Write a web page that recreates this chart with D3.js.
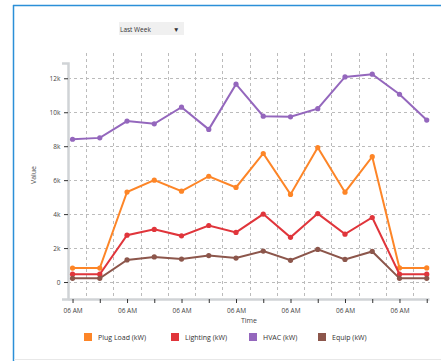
<!DOCTYPE html>
<html>
<head>
<meta charset="utf-8">
<script src="https://cdn.jsdelivr.net/npm/d3@7"></script>
<style>
    body { margin: 0; background: #fff; }
    svg text { font-family: "Open Sans", "Noto Sans", sans-serif; }
</style>
</head>
<body>
<svg id="chart" width="441" height="361"></svg>
<script>
// readings every 12 hours, one week
var times = [
    "2017-01-02 06:00", "2017-01-02 18:00", "2017-01-03 06:00", "2017-01-03 18:00",
    "2017-01-04 06:00", "2017-01-04 18:00", "2017-01-05 06:00", "2017-01-05 18:00",
    "2017-01-06 06:00", "2017-01-06 18:00", "2017-01-07 06:00", "2017-01-07 18:00",
    "2017-01-08 06:00", "2017-01-08 18:00"
];
var plugLoad = [820, 820, 5300, 6000, 5350, 6230, 5570, 7570, 5160, 7920, 5290, 7380, 830, 830];
var lighting = [460, 460, 2760, 3100, 2720, 3330, 2920, 4000, 2630, 4030, 2820, 3800, 460, 460];
var hvac     = [8410, 8490, 9480, 9320, 10300, 8990, 11650, 9770, 9730, 10210, 12080, 12240, 11060, 9540];
var equip    = [215, 215, 1300, 1480, 1350, 1560, 1410, 1820, 1280, 1920, 1330, 1800, 215, 215];

var seriesNames = [ "Plug Load (kW)", "Lighting (kW)", "HVAC (kW)", "Equip (kW)" ];
var colors = [ "#fd8527", "#e0353b", "#9467bd", "#8c564b" ];
var yTicks = [0, 2000, 4000, 6000, 8000, 10000, 12000];

var parse = d3.timeParse("%Y-%m-%d %H:%M");
var dates = times.map(parse);
var series = [ plugLoad, lighting, hvac, equip ];

var svg = d3.select("#chart");

// frame
svg.append("line").attr("x1", 13).attr("x2", 441).attr("y1", 5.5).attr("y2", 5.5)
    .attr("stroke", "#2b8fd8").attr("stroke-width", 1.5);
svg.append("line").attr("x1", 13.5).attr("x2", 13.5).attr("y1", 5).attr("y2", 361)
    .attr("stroke", "#2b8fd8").attr("stroke-width", 1.5);
svg.append("line").attr("x1", 14).attr("x2", 441).attr("y1", 359.5).attr("y2", 359.5)
    .attr("stroke", "#e8e8e8").attr("stroke-width", 1);

// dropdown
svg.append("rect").attr("x", 119).attr("y", 22).attr("width", 65).attr("height", 13)
    .attr("fill", "#f0f0f0");
svg.append("text").attr("x", 120).attr("y", 31.5).attr("font-size", 6.5)
    .attr("fill", "#333").text("Last Week");
svg.append("text").attr("x", 173).attr("y", 31.5).attr("font-size", 6.5)
    .attr("fill", "#333").text("▼");

var x = d3.scaleTime()
    .domain([ d3.timeHour.offset(dates[0], -1.9), d3.timeHour.offset(dates[dates.length - 1], 1) ])
    .range([68, 429]);
var y = d3.scaleLinear().domain([-1000, 12900]).range([299, 63]);

// grid
var gridTimes = d3.timeHour.every(12).range(x.domain()[0], x.domain()[1]);
svg.append("g").selectAll("line")
    .data(gridTimes)
    .enter().append("line")
    .attr("x1", function(d) { return Math.round(x(d)) + 0.5; })
    .attr("x2", function(d) { return Math.round(x(d)) + 0.5; })
    .attr("y1", 53).attr("y2", 299)
    .attr("stroke", "#bbb").attr("stroke-dasharray", "3,3");
svg.append("g").selectAll("line")
    .data(yTicks)
    .enter().append("line")
    .attr("x1", 68).attr("x2", 430)
    .attr("y1", function(d) { return Math.round(y(d)) + 0.5; })
    .attr("y2", function(d) { return Math.round(y(d)) + 0.5; })
    .attr("stroke", "#bbb").attr("stroke-dasharray", "3,3");

// axes
var fmt = d3.timeFormat("%H %p");
var xAxis = svg.append("g").attr("transform", "translate(0,299)")
    .call(d3.axisBottom(x).tickValues(dates).tickSize(4).tickSizeOuter(0)
        .tickFormat(function(d) { return d.getHours() === 6 ? fmt(d) : ""; }));
var yAxis = svg.append("g").attr("transform", "translate(68,0)")
    .call(d3.axisLeft(y).tickValues(yTicks).tickSize(4).tickSizeOuter(6)
        .tickFormat(function(d) { return d === 0 ? "0" : (d / 1000) + "k"; }));

[xAxis, yAxis].forEach(function(a) {
    a.select(".domain").attr("stroke", "#d0d3d6").attr("stroke-width", 2.5);
    a.selectAll(".tick line").attr("stroke", "#333");
    a.selectAll(".tick text").attr("fill", "#444").attr("font-size", 6.5)
        .attr("font-family", "'Open Sans', sans-serif");
});
xAxis.selectAll(".tick text").attr("dy", "1.1em");
yAxis.selectAll(".tick text").attr("dx", "-0.1em");

svg.append("text").attr("x", 249).attr("y", 322.5).attr("text-anchor", "middle")
    .attr("font-size", 7).attr("fill", "#444").text("Time");
svg.append("text").attr("transform", "translate(36,175) rotate(-90)")
    .attr("text-anchor", "middle").attr("font-size", 7).attr("fill", "#444").text("Value");

// lines + points
var line = d3.line()
    .x(function(d, i) { return x(dates[i]); })
    .y(function(d) { return y(d); });

var sg = svg.append("g").selectAll("g")
    .data(series)
    .enter().append("g");
sg.append("path")
    .attr("d", function(d) { return line(d); })
    .attr("fill", "none")
    .attr("stroke", function(d, i) { return colors[i]; })
    .attr("stroke-width", 2);
sg.each(function(d, i) {
    d3.select(this).selectAll("circle")
        .data(d)
        .enter().append("circle")
        .attr("cx", function(v, j) { return x(dates[j]); })
        .attr("cy", function(v) { return y(v); })
        .attr("r", 2.6)
        .attr("fill", colors[i]);
});

// legend
var legendX = [84, 171, 249, 318];
var lg = svg.append("g").selectAll("g")
    .data(seriesNames)
    .enter().append("g")
    .attr("transform", function(d, i) { return "translate(" + legendX[i] + ",333)"; });
lg.append("rect").attr("width", 8).attr("height", 8)
    .attr("fill", function(d, i) { return colors[i]; });
lg.append("text").attr("x", 14).attr("y", 7).attr("font-size", 7)
    .attr("fill", "#333").text(function(d) { return d; });
</script>
</body>
</html>
